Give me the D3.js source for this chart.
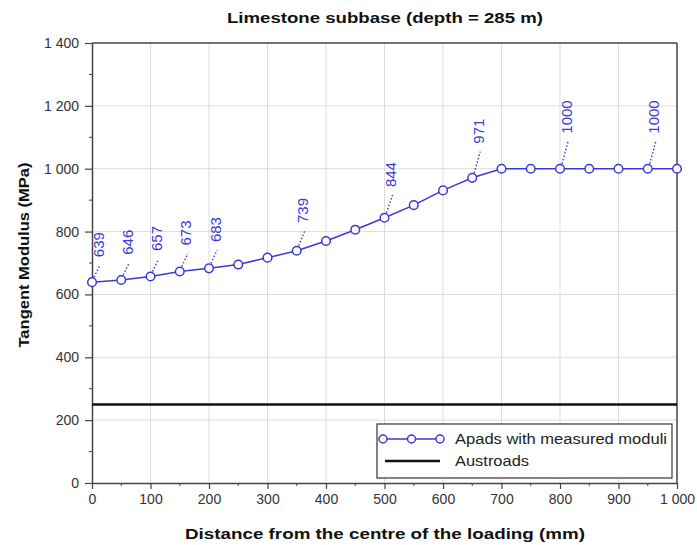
<!DOCTYPE html>
<html><head><meta charset="utf-8">
<script src="https://cdn.jsdelivr.net/npm/d3@7"></script>
<style>body{margin:0;background:#fff;} text{font-family:"Liberation Sans",Arial,sans-serif;}</style>
</head><body>
<svg id="c" width="697" height="545"></svg>
<script>
const distances = [0,50,100,150,200,250,300,350,400,450,500,550,600,650,700,750,800,850,900,950,1000];
const moduli = [639,646,657,673,683,695,717,739,770,806,844,884,931,971,1000,1000,1000,1000,1000,1000,1000];
const labelledDistances = [0,50,100,150,200,350,500,650,800,950];
const austroads = 250;
const xTicks = [0,100,200,300,400,500,600,700,800,900,1000];
const yTicks = [0,200,400,600,800,1000,1200,1400];
const title = "Limestone subbase (depth = 285 m)";
const xTitle = "Distance from the centre of the loading (mm)";
const yTitle = "Tangent Modulus (MPa)";
const legendLabels = ["Apads with measured moduli","Austroads"];

const blue = "#3a3ad8";
const svg = d3.select("#c");
const m = {l:92, r:677, t:43, b:483};
const x = d3.scaleLinear().domain([0,1000]).range([m.l,m.r]);
const y = d3.scaleLinear().domain([0,1400]).range([m.b,m.t]);
const fmt = v => d3.format(",")(v).replace(/,/g," ");

// grid
svg.append("g").selectAll("line").data(xTicks.slice(1,-1)).join("line")
  .attr("x1",d=>x(d)).attr("x2",d=>x(d)).attr("y1",m.t).attr("y2",m.b)
  .attr("stroke","#dcdcdc").attr("stroke-width",1);
svg.append("g").selectAll("line").data(yTicks.slice(1,-1)).join("line")
  .attr("y1",d=>y(d)).attr("y2",d=>y(d)).attr("x1",m.l).attr("x2",m.r)
  .attr("stroke","#dcdcdc").attr("stroke-width",1);

// frame top/right
svg.append("line").attr("x1",m.l).attr("x2",m.r).attr("y1",m.t).attr("y2",m.t).attr("stroke","#444").attr("stroke-width",1.5);
svg.append("line").attr("x1",m.r).attr("x2",m.r).attr("y1",m.t).attr("y2",m.b).attr("stroke","#444").attr("stroke-width",1.5);

// axes
const xAxis = svg.append("g").attr("transform",`translate(0,${m.b})`)
  .call(d3.axisBottom(x).tickValues(xTicks).tickFormat(fmt).tickSize(6).tickPadding(5).tickSizeOuter(0));
const yAxis = svg.append("g").attr("transform",`translate(${m.l},0)`)
  .call(d3.axisLeft(y).tickValues(yTicks).tickFormat(fmt).tickSize(7).tickPadding(6).tickSizeOuter(0));
[xAxis,yAxis].forEach(a=>{
  a.select(".domain").attr("stroke","#444").attr("stroke-width",1.5);
  a.selectAll(".tick line").attr("stroke","#444").attr("stroke-width",1.2);
  a.selectAll(".tick text").attr("font-size",14).attr("fill","#333").attr("font-family","Liberation Sans, Arial, sans-serif");
});
// minor ticks
svg.append("g").selectAll("line").data(d3.range(50,1000,100)).join("line")
  .attr("x1",d=>x(d)).attr("x2",d=>x(d)).attr("y1",m.b).attr("y2",m.b+3).attr("stroke","#444");
svg.append("g").selectAll("line").data(d3.range(100,1400,200)).join("line")
  .attr("y1",d=>y(d)).attr("y2",d=>y(d)).attr("x1",m.l).attr("x2",m.l-3).attr("stroke","#444");

// Austroads
svg.append("line").attr("x1",x(0)).attr("x2",x(1000)).attr("y1",y(austroads)).attr("y2",y(austroads))
  .attr("stroke","#111").attr("stroke-width",2.5);

// series
const pts = distances.map((d,i)=>({d, v:moduli[i]}));
svg.append("path").datum(pts)
  .attr("d",d3.line().x(p=>x(p.d)).y(p=>y(p.v)))
  .attr("fill","none").attr("stroke",blue).attr("stroke-width",1.5);

// leaders + labels (leader grows slightly with value)
const lab = pts.filter(p=>labelledDistances.includes(p.d));
const vmin = d3.min(moduli), vmax = d3.max(moduli);
const lead = v => 17 + (v - vmin) / (vmax - vmin) * 10;
svg.append("g").selectAll("line").data(lab).join("line")
  .attr("x1",p=>x(p.d)+2).attr("y1",p=>y(p.v)-5)
  .attr("x2",p=>x(p.d)+8).attr("y2",p=>y(p.v)-lead(p.v))
  .attr("stroke",blue).attr("stroke-width",1.4).attr("stroke-dasharray","1.5,2");
svg.append("g").selectAll("text").data(lab).join("text")
  .attr("transform",p=>`translate(${x(p.d)+11.5},${y(p.v)-lead(p.v)-8}) rotate(-90)`)
  .attr("font-size",15).attr("fill",blue).text(p=>p.v);

svg.append("g").selectAll("circle").data(pts).join("circle")
  .attr("cx",p=>x(p.d)).attr("cy",p=>y(p.v)).attr("r",4.3)
  .attr("fill","#fff").attr("stroke",blue).attr("stroke-width",1.5);

// titles
svg.append("text").attr("x",385).attr("y",23).attr("text-anchor","middle")
  .attr("font-size",14.5).attr("font-weight","bold").attr("fill","#111")
  .attr("textLength",316).attr("lengthAdjust","spacingAndGlyphs").text(title);
svg.append("text").attr("x",385).attr("y",539).attr("text-anchor","middle")
  .attr("font-size",14.5).attr("font-weight","bold").attr("fill","#111")
  .attr("textLength",400).attr("lengthAdjust","spacingAndGlyphs").text(xTitle);
svg.append("text").attr("transform","translate(29,255) rotate(-90)").attr("text-anchor","middle")
  .attr("font-size",14.5).attr("font-weight","bold").attr("fill","#111")
  .attr("textLength",185).attr("lengthAdjust","spacingAndGlyphs").text(yTitle);

// legend
const lg = svg.append("g").attr("transform","translate(377,424)");
lg.append("rect").attr("width",295).attr("height",54).attr("fill","#fff").attr("stroke","#333").attr("stroke-width",1.2);
lg.append("line").attr("x1",6).attr("x2",63).attr("y1",15).attr("y2",15).attr("stroke",blue).attr("stroke-width",1.5);
lg.selectAll("circle").data([6,34.5,63]).join("circle").attr("cx",d=>d).attr("cy",15).attr("r",4)
  .attr("fill","#fff").attr("stroke",blue).attr("stroke-width",1.5);
lg.append("line").attr("x1",8).attr("x2",63).attr("y1",37).attr("y2",37).attr("stroke","#111").attr("stroke-width",2.5);
lg.selectAll("text").data(legendLabels).join("text").attr("x",78).attr("y",(d,i)=>20+i*22)
  .attr("font-size",14).attr("fill","#222")
  .attr("textLength",(d,i)=>i===0?212:74).attr("lengthAdjust","spacingAndGlyphs").text(d=>d);
</script>
</body></html>
